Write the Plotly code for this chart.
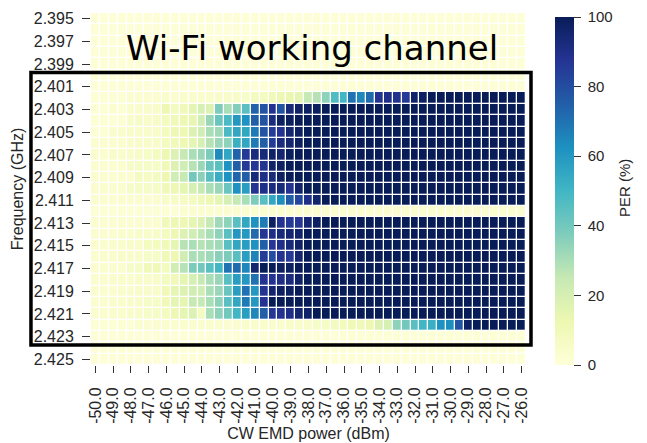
import plotly.graph_objects as go

# CW EMD power (dBm), one column every 0.5 dB
power_dbm = [-50.0, -49.5, -49.0, -48.5, -48.0, -47.5, -47.0, -46.5, -46.0, -45.5,
             -45.0, -44.5, -44.0, -43.5, -43.0, -42.5, -42.0, -41.5, -41.0, -40.5,
             -40.0, -39.5, -39.0, -38.5, -38.0, -37.5, -37.0, -36.5, -36.0, -35.5,
             -35.0, -34.5, -34.0, -33.5, -33.0, -32.5, -32.0, -31.5, -31.0, -30.5,
             -30.0, -29.5, -29.0, -28.5, -28.0, -27.5, -27.0, -26.5, -26.0]

# frequency rows (GHz)
freq_ghz = [2.395, 2.396, 2.397, 2.398, 2.399, 2.400, 2.401, 2.402, 2.403, 2.404,
            2.405, 2.406, 2.407, 2.408, 2.409, 2.410, 2.411, 2.412, 2.413, 2.414,
            2.415, 2.416, 2.417, 2.418, 2.419, 2.420, 2.421, 2.422, 2.423, 2.424,
            2.425]

x_tickvals = [-50.0, -49.0, -48.0, -47.0, -46.0, -45.0, -44.0, -43.0, -42.0, -41.0,
              -40.0, -39.0, -38.0, -37.0, -36.0, -35.0, -34.0, -33.0, -32.0, -31.0,
              -30.0, -29.0, -28.0, -27.0, -26.0]
x_ticktext = ["-50.0", "-49.0", "-48.0", "-47.0", "-46.0", "-45.0", "-44.0", "-43.0",
              "-42.0", "-41.0", "-40.0", "-39.0", "-38.0", "-37.0", "-36.0", "-35.0",
              "-34.0", "-33.0", "-32.0", "-31.0", "-30.0", "-29.0", "-28.0", "-27.0",
              "-26.0"]
y_tickvals = [2.395, 2.397, 2.399, 2.401, 2.403, 2.405, 2.407, 2.409,
              2.411, 2.413, 2.415, 2.417, 2.419, 2.421, 2.423, 2.425]
y_ticktext = ["2.395", "2.397", "2.399", "2.401", "2.403", "2.405", "2.407", "2.409",
              "2.411", "2.413", "2.415", "2.417", "2.419", "2.421", "2.423", "2.425"]

cbar_ticks = [0, 20, 40, 60, 80, 100]
cbar_text = [" 0", " 20", " 40", " 60", " 80", " 100"]

# PER (%) per frequency row (49 values per row)
per = [
    # 2.395
    [1,1,1,1,1,1,1,1,1,1, 1,1,1,1,1,1,1,1,1,1, 1,1,1,1,1,1,1,1,1,1, 1,1,1,1,1,1,1,1,1,1, 1,1,1,1,1,1,1,1,1],
    # 2.396
    [1,1,1,1,1,1,1,1,1,1, 1,1,1,1,1,1,1,1,1,1, 1,1,1,1,1,1,1,1,1,1, 1,1,1,1,1,1,1,1,1,1, 1,1,1,1,1,1,1,1,1],
    # 2.397
    [1,1,1,1,1,1,1,1,1,1, 1,1,1,1,1,1,1,1,1,1, 1,1,1,1,1,1,1,1,1,1, 1,1,1,1,1,1,1,1,1,1, 1,1,1,1,1,1,1,1,1],
    # 2.398
    [1,1,1,1,1,1,1,1,1,1, 1,1,1,1,1,1,1,1,1,1, 1,1,1,1,1,1,1,1,1,1, 1,1,1,1,1,1,1,1,1,1, 1,1,1,1,1,1,1,1,1],
    # 2.399
    [1,1,1,1,1,1,1,1,1,1, 1,1,1,1,1,1,1,1,1,1, 1,1,1,1,1,1,1,1,1,1, 1,1,1,1,1,1,1,1,1,1, 1,1,1,1,1,1,1,1,1],
    # 2.400
    [1,1,1,1,1,1,1,1,1,1, 1,1,1,1,1,1,1,1,1,1, 1,1,1,1,1,1,1,1,1,1, 1,1,1,1,1,1,1,1,1,1, 1,1,1,1,1,1,1,1,1],
    # 2.401
    [1,1,1,1,1,1,1,1,1,1, 1,1,1,1,1,1,1,1,1,1, 2,2,1,1,1,1,1,1,1,1, 1,1,1,1,1,1,1,1,1,1, 1,1,1,1,1,1,1,1,1],
    # 2.402
    [2,2,2,2,3,3,3,3,4,3, 4,4,4,4,5,5,5,5,8,8, 10,12,13,15,25,28,35,47,50,70,
     65,72,88,90,89,86,97,98,100,100, 100,100,100,100,100,100,100,100,100],
    # 2.403
    [2,2,3,2,4,4,5,5,12,8, 10,15,20,18,38,30,37,45,74,78, 88,78,93,97,98,99,100,100,100,100,
     100,100,100,100,100,100,100,100,100,100, 100,100,100,100,100,100,100,100,100],
    # 2.404
    [2,2,2,2,5,6,5,6,8,10, 12,14,22,33,42,48,60,62,75,78, 92,98,99,100,100,100,100,100,100,100,
     100,100,100,100,100,100,100,100,100,100, 100,100,100,100,100,100,100,100,100],
    # 2.405
    [2,2,4,4,5,5,5,5,8,12, 12,18,22,30,32,48,55,55,68,78, 85,88,95,98,100,100,100,100,100,100,
     100,100,100,100,100,100,100,100,100,100, 100,100,100,100,100,100,100,100,100],
    # 2.406
    [3,3,3,3,5,5,5,5,8,10, 12,15,20,28,33,35,52,55,68,75, 85,92,95,98,100,100,100,100,100,100,
     100,100,100,100,100,100,100,100,100,100, 100,100,100,100,100,100,100,100,100],
    # 2.407
    [3,3,5,4,5,6,6,8,12,18, 25,30,33,38,64,55,74,86,92,93, 97,95,99,100,100,100,100,100,100,100,
     100,100,100,100,100,100,100,100,100,100, 100,100,100,100,100,100,100,100,100],
    # 2.408
    [3,3,3,3,6,6,6,6,10,18, 22,28,33,42,45,62,75,86,87,88, 97,98,100,100,100,100,100,100,100,100,
     100,100,100,100,100,100,100,100,100,100, 100,100,100,100,100,100,100,100,100],
    # 2.409
    [3,3,3,3,3,8,7,8,12,22, 25,40,36,45,53,62,73,75,93,90, 93,98,100,100,100,100,100,100,100,100,
     100,100,100,100,100,100,100,100,100,100, 100,100,100,100,100,100,100,100,100],
    # 2.410
    [3,3,3,3,6,6,6,6,10,12, 15,20,25,30,33,42,62,58,88,90, 92,93,88,96,100,100,100,100,100,100,
     100,100,100,100,100,100,100,100,100,100, 100,100,100,100,100,100,100,100,100],
    # 2.411
    [3,3,3,3,3,3,3,3,5,6, 7,8,10,12,15,20,25,30,38,45, 55,63,75,82,90,96,100,100,100,100,
     100,100,100,100,100,100,100,100,100,100, 100,100,100,100,100,100,100,100,100],
    # 2.412
    [2,2,2,2,2,2,2,2,2,2, 3,3,3,3,3,3,3,3,3,3, 3,3,3,3,3,3,3,3,3,3, 3,3,3,3,3,3,3,3,3,3, 3,3,3,3,3,3,3,3,3],
    # 2.413
    [3,3,3,3,3,3,3,3,10,12, 12,15,18,25,32,35,45,55,62,68, 98,88,86,87,95,98,100,100,100,100,
     100,100,100,100,100,100,100,100,100,100, 100,100,100,100,100,100,100,100,100],
    # 2.414
    [3,3,3,4,4,5,5,5,8,12, 18,22,26,30,35,45,60,60,72,87, 90,93,95,96,100,100,100,100,100,100,
     100,100,100,100,100,100,100,100,100,100, 100,100,100,100,100,100,100,100,100],
    # 2.415
    [3,3,4,4,5,5,8,8,10,15, 28,30,28,30,32,45,55,58,62,75, 87,90,93,97,100,100,100,100,100,100,
     100,100,100,100,100,100,100,100,100,100, 100,100,100,100,100,100,100,100,100],
    # 2.416
    [3,4,4,5,5,5,6,6,10,12, 22,30,30,32,36,38,45,58,66,85, 80,88,86,95,100,100,100,100,100,100,
     100,100,100,100,100,100,100,100,100,100, 100,100,100,100,100,100,100,100,100],
    # 2.417
    [3,3,3,3,6,6,10,10,8,22, 28,38,40,45,50,70,72,65,95,100, 100,98,98,100,100,100,100,100,100,100,
     100,100,100,100,100,100,100,100,100,100, 100,100,100,100,100,100,100,100,100],
    # 2.418
    [3,3,4,4,4,5,5,5,8,10, 15,20,25,30,33,45,58,60,70,88, 88,90,92,97,100,100,100,100,100,100,
     100,100,100,100,100,100,100,100,100,100, 100,100,100,100,100,100,100,100,100],
    # 2.419
    [3,3,3,4,4,5,5,5,10,15, 18,22,22,30,33,42,58,70,60,88, 95,98,98,100,100,100,100,100,100,100,
     100,100,100,100,100,100,100,100,100,100, 100,100,100,100,100,100,100,100,100],
    # 2.420
    [3,3,4,4,5,5,6,6,10,15, 15,25,25,30,35,45,55,68,60,88, 100,100,100,100,100,100,100,100,100,100,
     100,100,100,100,100,100,100,100,100,100, 100,100,100,100,100,100,100,100,100],
    # 2.421
    [3,3,4,4,5,5,6,6,8,12, 15,18,8,30,35,40,50,58,65,75, 87,88,90,95,97,100,100,100,100,100,
     100,100,100,100,100,100,100,100,100,100, 100,100,100,100,100,100,100,100,100],
    # 2.422
    [2,2,2,2,2,3,3,3,3,3, 3,3,3,3,3,3,3,4,4,4, 4,4,5,5,5,6,6,8,9,10,
     10,12,18,20,35,40,45,50,52,62, 63,78,98,100,100,100,100,100,100],
    # 2.423
    [1,1,1,1,1,1,1,1,1,1, 1,1,1,1,1,1,1,1,1,1, 1,1,1,1,1,1,1,1,2,2, 2,2,2,2,2,2,2,2,2,2, 2,2,2,2,2,2,2,2,2],
    # 2.424
    [1,1,1,1,1,1,1,1,1,1, 1,1,1,1,1,1,1,1,1,1, 1,1,1,1,1,1,1,1,1,1, 1,1,1,1,1,1,1,1,1,1, 1,1,1,1,1,1,1,1,1],
    # 2.425
    [1,1,1,1,1,1,1,1,1,1, 1,1,1,1,1,1,1,1,1,1, 1,1,1,1,1,1,1,1,1,1, 1,1,1,1,1,1,1,1,1,1, 1,1,1,1,1,1,1,1,1],
]

# matplotlib YlGnBu
ylgnbu = [[0.0, "#ffffd9"], [0.125, "#edf8b1"], [0.25, "#c7e9b4"], [0.375, "#7fcdbb"],
          [0.5, "#41b6c4"], [0.625, "#1d91c0"], [0.75, "#225ea8"], [0.875, "#253494"],
          [1.0, "#081d58"]]

FONT = "Arial, Liberation Sans, sans-serif"
tick_font = dict(family=FONT, size=16, color="#262626")

fig = go.Figure(go.Heatmap(
    x=power_dbm, y=freq_ghz, z=per,
    zmin=0, zmax=100,
    colorscale=ylgnbu,
    xgap=1.3, ygap=1.3,
    colorbar=dict(
        thickness=19, len=0.99, lenmode="fraction",
        x=1.067, xanchor="left", xpad=0,
        y=0, yanchor="bottom", ypad=0,
        outlinewidth=0,
        ticks="outside", ticklen=7, tickwidth=1.2, tickcolor="#333",
        tickmode="array", tickvals=cbar_ticks, ticktext=cbar_text,
        ticklabeloverflow="allow",
        tickfont=dict(family=FONT, size=15, color="#262626"),
    ),
))

# working channel box (paper coords so it can reach the tick labels)
fig.add_shape(type="rect", xref="paper", yref="paper",
              x0=-0.138, x1=1.0115, y0=0.0568, y1=0.831,
              line=dict(color="black", width=3.5), fillcolor="rgba(0,0,0,0)")

fig.add_annotation(x=-37.8, y=2.3976, xref="x", yref="y",
                   text="Wi-Fi working channel", showarrow=False,
                   xanchor="center", yanchor="middle",
                   font=dict(family="DejaVu Sans", size=34, color="black"))

# colorbar title
fig.add_annotation(x=1.228, y=0.503, xref="paper", yref="paper",
                   text="PER (%)", textangle=-90, showarrow=False,
                   xanchor="center", yanchor="middle",
                   font=dict(family=FONT, size=15, color="#262626"))

fig.update_xaxes(
    range=[-50.25, -25.75],
    tickmode="array", tickvals=x_tickvals, ticktext=x_ticktext, tickangle=-90,
    ticks="outside", ticklen=7, tickwidth=1.2, tickcolor="#333",
    ticklabelstandoff=8, tickfont=tick_font,
    showgrid=False, zeroline=False, showline=False,
    title=dict(text="CW EMD power (dBm)", standoff=4,
               font=dict(family=FONT, size=16, color="#262626")),
)
fig.update_yaxes(
    range=[2.4255, 2.3945],
    tickmode="array", tickvals=y_tickvals, ticktext=y_ticktext,
    ticks="outside", ticklen=8, tickwidth=1.2, tickcolor="#333",
    ticklabelstandoff=5, tickfont=tick_font,
    showgrid=False, zeroline=False, showline=False,
    title=dict(text="Frequency (GHz)", standoff=6,
               font=dict(family=FONT, size=16, color="#262626")),
)

# page body keeps an 8px margin, so the figure is 8px smaller than the window
fig.update_layout(
    width=639, height=435,
    margin=dict(l=83, r=121, t=5, b=78, autoexpand=False),
    paper_bgcolor="white", plot_bgcolor="white",
    showlegend=False,
)

fig.write_html("out.html")
